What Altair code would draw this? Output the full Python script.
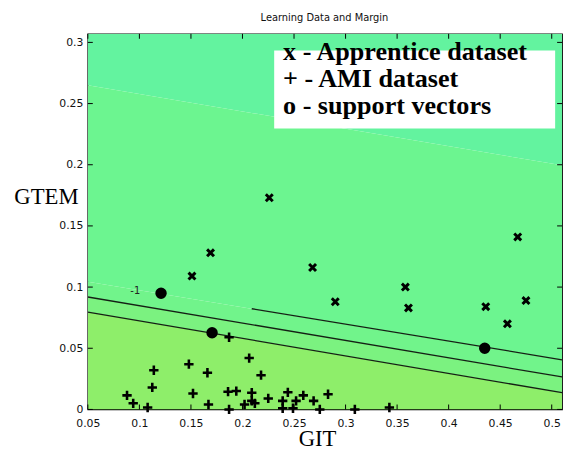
import altair as alt
import pandas as pd

# ---------------- data ----------------
apprentice_git = [0.151, 0.169, 0.226, 0.268, 0.290, 0.358, 0.361, 0.436, 0.457, 0.467, 0.475]
apprentice_gtem = [0.109, 0.128, 0.173, 0.116, 0.088, 0.100, 0.083, 0.084, 0.070, 0.141, 0.089]

ami_git = [0.187, 0.2065, 0.148, 0.114, 0.166, 0.218, 0.1125, 0.152, 0.186, 0.194,
           0.209, 0.088, 0.094, 0.108, 0.167, 0.187, 0.202, 0.209, 0.212, 0.225,
           0.239, 0.244, 0.239, 0.252, 0.259, 0.249, 0.269, 0.283, 0.275, 0.309, 0.3425]
ami_gtem = [0.059, 0.042, 0.037, 0.032, 0.030, 0.028, 0.018, 0.013, 0.0145, 0.015,
            0.0137, 0.0115, 0.005, 0.0016, 0.004, 0.0, 0.004, 0.007, 0.005, 0.009,
            0.007, 0.014, 0.001, 0.007, 0.0115, 0.001, 0.007, 0.0124, 0.0, 0.0, 0.0016]

support_git = [0.121, 0.1705, 0.435]
support_gtem = [0.095, 0.0627, 0.050]

# margin lines (end points)
line_names = ["upper", "middle", "lower"]
line_x = [[0.209, 0.51], [0.05, 0.51], [0.05, 0.51]]
line_y = [[0.0823, 0.0406], [0.0919, 0.0266], [0.0796, 0.0137]]

# background filled bands: boundaries at x = 0.05 and x = 0.51
band_names = ["b0", "b1", "b2", "b3", "b4"]
band_top = [[0.307, 0.307], [0.265, 0.1995], [0.1043, 0.0406], [0.0919, 0.0266], [0.0796, 0.0137]]
band_bottom = [[0.265, 0.1995], [0.1043, 0.0406], [0.0919, 0.0266], [0.0796, 0.0137], [0.0, 0.0]]
band_colors = ["#63f39f", "#6cf590", "#71f48b", "#7bf280", "#8eee6a"]
band_edges_x = [0.05, 0.51]

x_ticks = [0.05, 0.1, 0.15, 0.2, 0.25, 0.3, 0.35, 0.4, 0.45, 0.5]
y_ticks = [0, 0.05, 0.1, 0.15, 0.2, 0.25, 0.3]

legend_lines = ["x - Apprentice dataset", "+ - AMI dataset", "o - support vectors"]

# ---------------- tables ----------------
W, H = 481, 381
XDOM = [0.05, 0.51]
YDOM = [0.0, 0.307]

bands = pd.DataFrame([
    {"band": n, "x": band_edges_x[i], "y": t[i], "y2": b[i]}
    for n, t, b in zip(band_names, band_top, band_bottom) for i in range(2)
])
lines = pd.DataFrame([
    {"line": n, "x": xs_[i], "y": ys_[i]}
    for n, xs_, ys_ in zip(line_names, line_x, line_y) for i in range(2)
])
appr = pd.DataFrame({"x": apprentice_git, "y": apprentice_gtem})
ami = pd.DataFrame({"x": ami_git, "y": ami_gtem})
sv = pd.DataFrame({"x": support_git, "y": support_gtem})
xt = pd.DataFrame({"x": x_ticks})
yt = pd.DataFrame({"y": y_ticks})

xs = alt.Scale(domain=XDOM, nice=False, zero=False)
ys = alt.Scale(domain=YDOM, nice=False, zero=False)

band_layer = alt.Chart(bands).mark_area(clip=True, interpolate="linear").encode(
    x=alt.X("x:Q", scale=xs, title=None,
            axis=alt.Axis(values=x_ticks, format="~g", ticks=False, domain=False, grid=False,
                          labelPadding=8, labelFont="DejaVu Sans", labelFontSize=11,
                          labelColor="#111", labelFlush=False)),
    y=alt.Y("y:Q", scale=ys, title=None, stack=None,
            axis=alt.Axis(values=y_ticks, format="~g", ticks=False, domain=False, grid=False,
                          labelPadding=5, labelFont="DejaVu Sans", labelFontSize=11,
                          labelColor="#111", labelFlush=False)),
    y2="y2:Q",
    color=alt.Color("band:N", scale=alt.Scale(domain=band_names, range=band_colors), legend=None),
    detail="band:N",
)

line_layer = alt.Chart(lines).mark_line(color="#142014", strokeWidth=1.3, clip=True).encode(
    x=alt.X("x:Q", title=None), y=alt.Y("y:Q", title=None), detail="line:N"
)

appr_layer = alt.Chart(appr).mark_point(
    shape="M-1,-1L1,1M-1,1L1,-1", filled=False, stroke="#000", strokeWidth=3, size=49, opacity=1
).encode(x=alt.X("x:Q", title=None), y=alt.Y("y:Q", title=None))

ami_layer = alt.Chart(ami).mark_point(
    shape="M-1,0L1,0M0,-1L0,1", filled=False, stroke="#000", strokeWidth=2.6, size=90, opacity=1
).encode(x=alt.X("x:Q", title=None), y=alt.Y("y:Q", title=None))

sv_layer = alt.Chart(sv).mark_point(
    shape="circle", filled=True, color="#000", size=135, opacity=1
).encode(x=alt.X("x:Q", title=None), y=alt.Y("y:Q", title=None))

label_layer = alt.Chart(pd.DataFrame({"x": [0.096], "y": [0.097], "t": ["-1"]})).mark_text(
    font="DejaVu Sans", fontSize=10, color="#222", align="center", baseline="middle"
).encode(x=alt.X("x:Q", title=None), y=alt.Y("y:Q", title=None), text="t:N")

legend_box = alt.Chart(pd.DataFrame({"a": [0]})).mark_rect(color="white").encode(
    x=alt.value(189), x2=alt.value(474), y=alt.value(17), y2=alt.value(96)
)
legend_layers = []
for txt, py in zip(legend_lines, [27, 54, 81]):
    legend_layers.append(
        alt.Chart(pd.DataFrame({"t": [txt]})).mark_text(
            font="Liberation Serif", fontWeight="bold", fontSize=26.5, color="#000",
            align="left", baseline="alphabetic"
        ).encode(x=alt.value(198), y=alt.value(py), text="t:N")
    )

tick_b = alt.Chart(xt).mark_rule(color="#000", strokeWidth=1).encode(
    x=alt.X("x:Q", title=None), y=alt.value(H), y2=alt.value(H - 5))
tick_t = alt.Chart(xt).mark_rule(color="#000", strokeWidth=1).encode(
    x=alt.X("x:Q", title=None), y=alt.value(0), y2=alt.value(5))
tick_l = alt.Chart(yt).mark_rule(color="#000", strokeWidth=1).encode(
    y=alt.Y("y:Q", title=None), x=alt.value(0), x2=alt.value(5))
tick_r = alt.Chart(yt).mark_rule(color="#000", strokeWidth=1).encode(
    y=alt.Y("y:Q", title=None), x=alt.value(W), x2=alt.value(W - 5))

title_layer = alt.Chart(pd.DataFrame({"t": ["Learning Data and Margin"]})).mark_text(
    font="DejaVu Sans", fontSize=10, color="#111", align="center", baseline="middle"
).encode(x=alt.value(240), y=alt.value(-16), text="t:N")
gtem_layer = alt.Chart(pd.DataFrame({"t": ["GTEM"]})).mark_text(
    font="Liberation Serif", fontSize=23, color="#000", align="center", baseline="middle"
).encode(x=alt.value(-42), y=alt.value(166), text="t:N")
git_layer = alt.Chart(pd.DataFrame({"t": ["GIT"]})).mark_text(
    font="Liberation Serif", fontSize=23, color="#000", align="center", baseline="middle"
).encode(x=alt.value(233), y=alt.value(411), text="t:N")

chart = alt.layer(
    band_layer, line_layer, appr_layer, ami_layer, sv_layer, label_layer,
    legend_box, *legend_layers, tick_b, tick_t, tick_l, tick_r,
    title_layer, gtem_layer, git_layer,
).properties(
    width=W, height=H,
    autosize=alt.AutoSizeParams(type="none"),
    padding={"left": 81, "top": 23, "right": 3, "bottom": 42},
    background="white",
).configure_view(stroke="#000", strokeWidth=1.3)

chart.save("out.html", embed_options={"renderer": "svg", "actions": False})
